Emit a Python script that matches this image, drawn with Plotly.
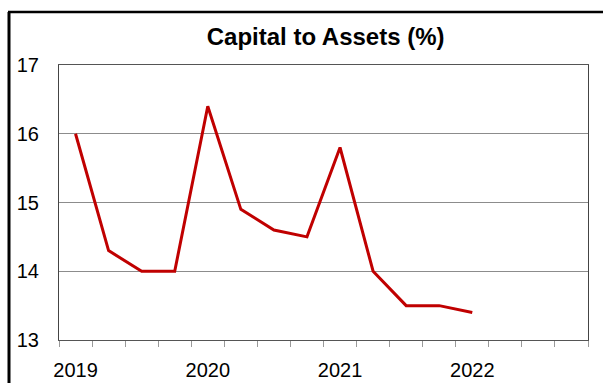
import plotly.graph_objects as go

# Quarterly capital-to-assets ratio
quarters = ["2019Q1", "2019Q2", "2019Q3", "2019Q4",
            "2020Q1", "2020Q2", "2020Q3", "2020Q4",
            "2021Q1", "2021Q2", "2021Q3", "2021Q4",
            "2022Q1"]
capital_to_assets = [16.0, 14.3, 14.0, 14.0,
                     16.4, 14.9, 14.6, 14.5,
                     15.8, 14.0, 13.5, 13.5,
                     13.4]
n_slots = 16  # four years of quarters on the axis
year_labels = ["2019", "2020", "2021", "2022"]
y_ticks = [13, 14, 15, 16, 17]

x_pos = list(range(len(quarters)))

fig = go.Figure()
fig.add_trace(go.Scatter(
    x=x_pos, y=capital_to_assets, mode="lines",
    line=dict(color="#C00000", width=3),
    text=quarters, hoverinfo="text+y", showlegend=False,
))

font_family = "Liberation Sans, Arial, sans-serif"

fig.update_layout(
    width=603, height=383,
    margin=dict(l=59, r=15, t=65, b=43),
    paper_bgcolor="white", plot_bgcolor="white",
    title=dict(text="<b>Capital to Assets (%)</b>", x=0.54, xanchor="center",
               y=1 - 37 / 383, yanchor="middle",
               font=dict(family=font_family, size=24, color="black")),
    xaxis=dict(
        range=[-0.5, n_slots - 0.5],
        tickmode="array",
        tickvals=[4 * i for i in range(len(year_labels))],
        ticktext=year_labels,
        ticks="", showgrid=False, zeroline=False, automargin=False,
        showline=True, mirror=True, linecolor="#555555", linewidth=1,
        tickfont=dict(family=font_family, size=20, color="black"),
        minor=dict(ticks="outside", tick0=-0.5, dtick=1, ticklen=6,
                   tickcolor="#999999", showgrid=False),
        ticklabelstandoff=12,
    ),
    yaxis=dict(
        range=[13, 17], tickvals=y_ticks, automargin=False,
        showgrid=True, gridcolor="#8c8c8c", gridwidth=1, zeroline=False,
        showline=True, mirror=True, linecolor="#444444", linewidth=1,
        ticks="", tickfont=dict(family=font_family, size=20, color="black"),
        ticklabelstandoff=15,
    ),
    shapes=[
        # outer frame: left and top edges
        dict(type="line", xref="paper", yref="paper",
             x0=(9 - 59) / 529, x1=(9 - 59) / 529,
             y0=(340 - 12) / 275, y1=(340 - 390) / 275,
             line=dict(color="black", width=3)),
        dict(type="line", xref="paper", yref="paper",
             x0=(8 - 59) / 529, x1=(610 - 59) / 529,
             y0=(340 - 12) / 275, y1=(340 - 12) / 275,
             line=dict(color="black", width=2.5)),
    ],
)

fig.write_html("out.html")
